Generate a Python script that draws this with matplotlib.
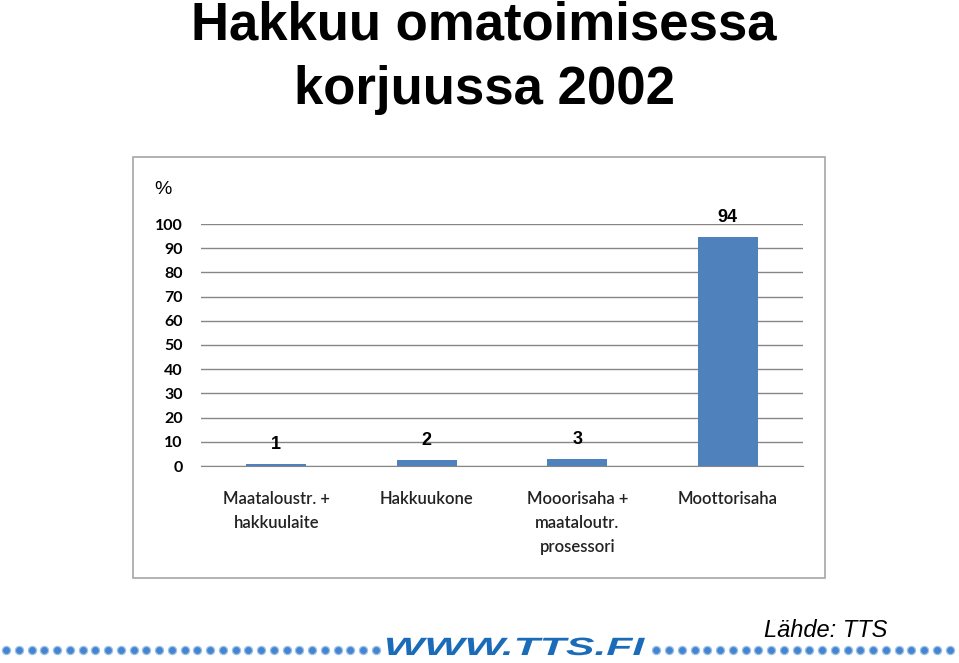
import matplotlib.pyplot as plt
from matplotlib.patches import Rectangle, PathPatch
from matplotlib.textpath import TextPath
from matplotlib.font_manager import FontProperties
from matplotlib.transforms import Affine2D

# data
categories = ['Maataloustr. +\nhakkuulaite', 'Hakkuukone',
              'Mooorisaha +\nmaataloutr.\nprosessori', 'Moottorisaha']
values = [1, 2.5, 3, 94.5]
value_labels = ['1', '2', '3', '94']
yticks = [0, 10, 20, 30, 40, 50, 60, 70, 80, 90, 100]

W, H = 959, 663
fig = plt.figure(figsize=(W / 100, H / 100), dpi=100)


def fx(px):
    return px / W


def fy(py):
    return 1 - py / H


# otsikko
fig.text(fx(484), fy(40), 'Hakkuu omatoimisessa', ha='center', va='baseline',
         fontsize=38, fontweight='bold', family='Liberation Sans')
fig.text(fx(484), fy(104), 'korjuussa 2002', ha='center', va='baseline',
         fontsize=38, fontweight='bold', family='Liberation Sans')

# kaavion kehys
fig.patches.append(Rectangle((fx(133), fy(578)), fx(825) - fx(133), fy(157) - fy(578),
                             transform=fig.transFigure, fill=False,
                             edgecolor='#a6a6a6', linewidth=1.2))

ax = fig.add_axes([fx(201), fy(466), fx(803) - fx(201), fy(224) - fy(466)])
x = range(len(categories))
ax.bar(x, values, width=0.4, color='#4f81bd', zorder=3)
ax.set_xlim(-0.5, 3.5)
ax.set_ylim(0, 100)
ax.set_yticks(yticks)
ax.yaxis.grid(True, color='#868686', linewidth=1)
ax.set_axisbelow(True)
for s in ax.spines.values():
    s.set_visible(False)
ax.spines['bottom'].set_visible(True)
ax.spines['bottom'].set_color('#868686')
ax.tick_params(axis='y', length=0, pad=13, labelsize=11.5)
ax.tick_params(axis='x', length=0, pad=18, labelsize=12)
ax.set_xticks(list(x))
ax.set_xticklabels(categories, linespacing=1.6)
for lab in ax.get_yticklabels():
    lab.set_family('Lato')
    lab.set_fontweight('bold')
for lab in ax.get_xticklabels():
    lab.set_family('Lato')
    lab.set_fontweight('semibold')
    lab.set_color('#222222')

for i, (v, t) in enumerate(zip(values, value_labels)):
    ax.text(i, v + 8, t, ha='center', va='center', fontsize=13,
            fontweight='bold', family='Liberation Sans')

fig.text(fx(163), fy(189), '%', ha='center', va='center', fontsize=14,
         family='Liberation Sans')

# alapalkki
dax = fig.add_axes([0, 0, 1, 1], zorder=-1)
dax.set_xlim(0, W)
dax.set_ylim(H, 0)
dax.axis('off')
dot_x = [6 + 12.75 * k for k in range(75)]
dot_x = [d for d in dot_x if d < 382 or d > 650]
dax.scatter(dot_x, [650] * len(dot_x), s=34, color='#4585d0',
            edgecolors='#9cc2ea', linewidths=0.9)

fp = FontProperties(family='Liberation Sans', weight='bold', style='italic')
tp = TextPath((0, 0), 'WWW.TTS.FI', size=25, prop=fp)
ext = tp.get_extents()
sx = (645 - 387) / ext.width
tr = Affine2D().translate(-ext.x0, 0).scale(sx, -1).translate(387, 655)
dax.add_patch(PathPatch(tr.transform_path(tp), facecolor='#1b6cb8',
                        edgecolor='none'))

fig.text(fx(826), fy(637), 'Lähde: TTS', ha='center', va='baseline',
         fontsize=17, style='italic', family='Liberation Sans')

fig.savefig('out.png', dpi=100)
